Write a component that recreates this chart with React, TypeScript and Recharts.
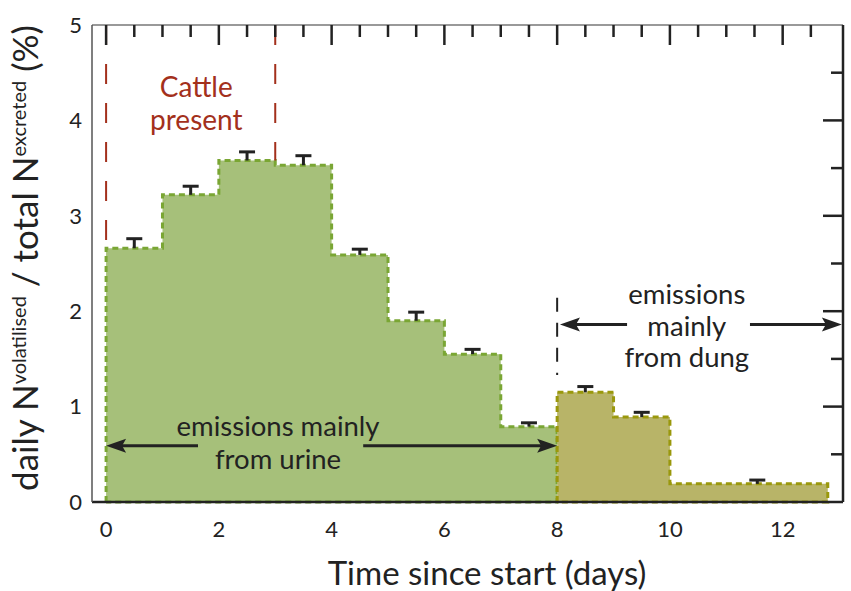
import React from 'react';
import { ComposedChart, Area, XAxis, YAxis, ReferenceLine, ReferenceDot, Scatter } from 'recharts';

const FONT = "Lato, 'Open Sans', sans-serif";

// urine-dominated period (green)
const urineStarts = [0, 1, 2, 3, 4, 5, 6, 7];
const urineEnds = [1, 2, 3, 4, 5, 6, 7, 8];
const urineValues = [2.66, 3.22, 3.58, 3.53, 2.59, 1.9, 1.55, 0.79];
const urineErrDays = [0.5, 1.5, 2.5, 3.5, 4.5, 5.5, 6.5, 7.5];
const urineErrTops = [2.76, 3.31, 3.67, 3.63, 2.65, 1.99, 1.6, 0.83];

// dung-dominated period (olive)
const dungStarts = [8, 9, 10];
const dungEnds = [9, 10, 12.8];
const dungValues = [1.15, 0.89, 0.19];
const dungErrDays = [8.5, 9.5, 11.55];
const dungErrTops = [1.21, 0.94, 0.23];

const xTicks = [0, 2, 4, 6, 8, 10, 12];
const yTicks = [0, 1, 2, 3, 4, 5];
const topTicks = [0, 0.5, 1, 1.5, 2, 2.5, 3, 3.5, 4, 4.5, 5, 5.5, 6, 6.5, 7, 7.5, 8, 8.5, 9, 9.5, 10, 10.5, 11, 11.5, 12, 12.5];
const rightTicks = [0.5, 1, 1.5, 2, 2.5, 3, 3.5, 4, 4.5];
const topMajor = [0, 2, 4, 6, 8, 10, 12];

const cattleDays = [0, 3];

const X_DOMAIN: [number, number] = [-0.25, 13.07];

function outline(starts: number[], ends: number[], values: number[]) {
  const pts: { x: number; y: number }[] = [{ x: starts[0], y: 0 }];
  for (let i = 0; i < starts.length; i++) {
    pts.push({ x: starts[i], y: values[i] });
    pts.push({ x: ends[i], y: values[i] });
  }
  pts.push({ x: ends[ends.length - 1], y: 0 });
  pts.push({ x: starts[0], y: 0 });
  return pts;
}

const urineOutline = outline(urineStarts, urineEnds, urineValues);
const dungOutline = outline(dungStarts, dungEnds, dungValues);

const errors = [
  ...urineErrDays.map((d, i) => ({ x: d, base: urineValues[i], y: urineErrTops[i] })),
  ...dungErrDays.map((d, i) => ({ x: d, base: dungValues[i], y: dungErrTops[i] })),
];

function valueAt(day: number) {
  const i = urineStarts.indexOf(day);
  if (i > 0) return Math.max(urineValues[i], urineValues[i - 1]);
  if (i === 0) return urineValues[0];
  return 0;
}

const TopTick = (props: any) => {
  const { x, y, payload } = props;
  const len = topMajor.includes(payload.value) ? 20 : 12;
  return <line x1={x} x2={x} y1={y} y2={y + len} stroke="#222" strokeWidth={2.5} />;
};

const RightTick = (props: any) => {
  const { x, y, payload } = props;
  const len = Number.isInteger(payload.value) ? 20 : 12;
  return <line x1={x} x2={x - len} y1={y} y2={y} stroke="#222" strokeWidth={2.5} />;
};

const Cap = (props: any) => {
  const { cx, cy } = props;
  return <line x1={cx - 8} x2={cx + 8} y1={cy} y2={cy} stroke="#222" strokeWidth={3} />;
};

const arrowHead = (dir: 'left' | 'right') => (props: any) => {
  const { cx, cy } = props;
  const s = dir === 'left' ? 1 : -1;
  const pts = `${cx},${cy} ${cx + s * 20},${cy - 7} ${cx + s * 16},${cy} ${cx + s * 20},${cy + 7}`;
  return <polygon points={pts} fill="#222" />;
};

const textShape = (label: string, color: string, size: number) => (props: any) => {
  const { cx, cy } = props;
  return (
    <text x={cx} y={cy} textAnchor="middle" dominantBaseline="central" fontFamily={FONT} fontSize={size} fill={color}>
      {label}
    </text>
  );
};

const YLabel = () => (
  <text transform="translate(38,258) rotate(-90)" x={0} y={0} textAnchor="middle" fontFamily={FONT} fontSize={35} fill="#222">
    daily N
    <tspan fontSize={20} dy={-12}>volatilised</tspan>
    <tspan dy={12}>{' / total N'}</tspan>
    <tspan fontSize={20} dy={-12}>excreted</tspan>
    <tspan dy={12}>{' (%)'}</tspan>
  </text>
);

const XLabel = () => (
  <text x={487} y={585} textAnchor="middle" fontFamily={FONT} fontSize={33} fill="#222">
    Time since start (days)
  </text>
);

const ANN = '#222';
const RED = '#a3301c';

export default function App() {
  return (
    <div style={{ position: 'absolute', left: 0, top: 0 }}>
      <ComposedChart width={851} height={591} margin={{ top: 24, right: 7, bottom: 0, left: 0 }}>
        <XAxis
          type="number"
          dataKey="x"
          domain={X_DOMAIN}
          ticks={xTicks}
          interval={0}
          allowDataOverflow
          height={89}
          tickSize={0}
          tickMargin={19}
          axisLine={{ stroke: '#222', strokeWidth: 2.5 }}
          tick={{ fontSize: 22, fill: '#222', fontFamily: FONT }}
          label={XLabel}
        />
        <XAxis
          xAxisId="top"
          orientation="top"
          type="number"
          dataKey="x"
          domain={X_DOMAIN}
          ticks={topTicks}
          interval={0}
          allowDataOverflow
          height={1}
          tickSize={0}
          tickMargin={0}
          tickLine={false}
          axisLine={{ stroke: '#777', strokeWidth: 1.5 }}
          tick={TopTick}
        />
        <YAxis
          type="number"
          domain={[0, 5]}
          ticks={yTicks}
          interval={0}
          width={92}
          tickSize={0}
          tickMargin={10}
          axisLine={{ stroke: '#555', strokeWidth: 1.5 }}
          tick={{ fontSize: 22, fill: '#222', fontFamily: FONT }}
          label={YLabel}
        />
        <YAxis
          yAxisId="r"
          orientation="right"
          type="number"
          domain={[0, 5]}
          ticks={rightTicks}
          interval={0}
          allowDataOverflow
          width={1}
          tickSize={0}
          tickMargin={0}
          tickLine={false}
          axisLine={{ stroke: '#222', strokeWidth: 2.5 }}
          tick={RightTick}
        />

        {cattleDays.map((d) => (
          <ReferenceLine
            key={`cattle-${d}`}
            segment={[{ x: d, y: 5 }, { x: d, y: valueAt(d) }]}
            stroke={RED}
            strokeWidth={2}
            strokeDasharray="20 19"
          />
        ))}

        <Area
          data={urineOutline}
          dataKey="y"
          type="linear"
          fill="#a6c07a"
          fillOpacity={1}
          stroke="#7aa634"
          strokeWidth={3}
          strokeDasharray="6 4"
          isAnimationActive={false}
          dot={false}
          activeDot={false}
        />
        <Area
          data={dungOutline}
          dataKey="y"
          type="linear"
          fill="#b8b468"
          fillOpacity={1}
          stroke="#9a980c"
          strokeWidth={3}
          strokeDasharray="6 4"
          isAnimationActive={false}
          dot={false}
          activeDot={false}
        />

        {errors.map((e, i) => (
          <ReferenceLine
            key={`stem-${i}`}
            segment={[{ x: e.x, y: e.base }, { x: e.x, y: e.y }]}
            stroke="#222"
            strokeWidth={3}
          />
        ))}
        <Scatter data={errors} dataKey="y" xAxisId="top" yAxisId="r" shape={Cap} isAnimationActive={false} />

        <ReferenceLine
          segment={[{ x: 8, y: 2.14 }, { x: 8, y: 1.33 }]}
          stroke="#222"
          strokeWidth={2}
          strokeDasharray="14 11"
        />

        {/* urine arrow */}
        <ReferenceLine segment={[{ x: 0.2, y: 0.59 }, { x: 1.63, y: 0.59 }]} stroke="#222" strokeWidth={3} />
        <ReferenceLine segment={[{ x: 4.56, y: 0.59 }, { x: 7.8, y: 0.59 }]} stroke="#222" strokeWidth={3} />
        <ReferenceDot x={0} y={0.59} shape={arrowHead('left')} />
        <ReferenceDot x={8} y={0.59} shape={arrowHead('right')} />
        <ReferenceDot x={3.05} y={0.8} shape={textShape('emissions mainly', ANN, 27.5)} />
        <ReferenceDot x={3.05} y={0.46} shape={textShape('from urine', ANN, 27.5)} />

        {/* dung arrow */}
        <ReferenceLine segment={[{ x: 8.2, y: 1.86 }, { x: 9.24, y: 1.86 }]} stroke="#222" strokeWidth={3} />
        <ReferenceLine segment={[{ x: 11.42, y: 1.86 }, { x: 12.85, y: 1.86 }]} stroke="#222" strokeWidth={3} />
        <ReferenceDot x={8.05} y={1.86} shape={arrowHead('left')} />
        <ReferenceDot x={13.05} y={1.86} shape={arrowHead('right')} />
        <ReferenceDot x={10.3} y={2.19} shape={textShape('emissions', ANN, 27.5)} />
        <ReferenceDot x={10.3} y={1.85} shape={textShape('mainly', ANN, 27.5)} />
        <ReferenceDot x={10.3} y={1.52} shape={textShape('from dung', ANN, 27.5)} />

        {/* cattle present */}
        <ReferenceDot x={1.6} y={4.36} shape={textShape('Cattle', RED, 28)} />
        <ReferenceDot x={1.6} y={4.01} shape={textShape('present', RED, 28)} />
      </ComposedChart>
    </div>
  );
}
